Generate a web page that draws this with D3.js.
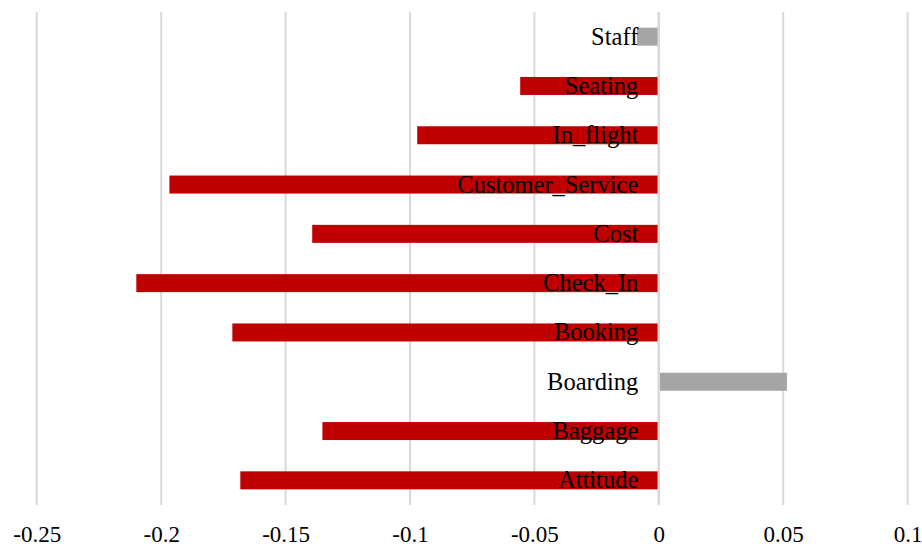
<!DOCTYPE html>
<html><head><meta charset="utf-8">
<script src="https://cdn.jsdelivr.net/npm/d3@7"></script>
<style>body{margin:0;background:#fff}svg{display:block}</style>
</head><body>
<svg id="c" width="922" height="547"></svg>
<script>
const categories = ["Staff","Seating","In_flight","Customer_Service","Cost","Check_In","Booking","Boarding","Baggage","Attitude"];
const values = [-0.0088,-0.0557,-0.0971,-0.1967,-0.1393,-0.2100,-0.1714,0.0515,-0.1352,-0.1682];
const tickValues = [-0.25,-0.2,-0.15,-0.1,-0.05,0,0.05,0.1];
const tickLabels = ["-0.25","-0.2","-0.15","-0.1","-0.05","0","0.05","0.1"];

const svg = d3.select("#c");
const x = d3.scaleLinear().domain([-0.25,0.1]).range([36.8,907.6]);
const y = d3.scaleBand().domain(categories).range([12,505]).paddingInner(0.635).paddingOuter(0.3175);
const font = "'Liberation Serif','Times New Roman',serif";

// gridlines
svg.append("g").selectAll("line").data(tickValues).join("line")
  .attr("x1",d=>x(d)).attr("x2",d=>x(d)).attr("y1",12).attr("y2",505)
  .attr("stroke","#d9d9d9").attr("stroke-width",2);

// bars
svg.append("g").selectAll("rect").data(categories).join("rect")
  .attr("x",(d,i)=>Math.min(x(0),x(values[i])))
  .attr("width",(d,i)=>Math.abs(x(values[i])-x(0)))
  .attr("y",d=>y(d)).attr("height",y.bandwidth())
  .attr("fill",(d,i)=>values[i]<0 && d!=="Staff" ? "#c00000" : "#a5a5a5");

// zero axis line
svg.append("line").attr("x1",x(0)).attr("x2",x(0)).attr("y1",12).attr("y2",505)
  .attr("stroke","#d9d9d9").attr("stroke-width",2.5);

// category labels
svg.append("g").selectAll("text").data(categories).join("text")
  .attr("x",x(0)-20.5).attr("y",d=>y(d)+y.bandwidth()/2+8)
  .attr("text-anchor","end").attr("font-family",font).attr("font-size",24.5)
  .attr("fill","#000").text(d=>d);

// x axis tick labels
const axis = d3.axisBottom(x).tickValues(tickValues).tickFormat((d,i)=>tickLabels[i]).tickSize(0);
const ag = svg.append("g").attr("transform","translate(0,523)").call(axis);
ag.select(".domain").remove();
ag.selectAll("text").attr("font-family",font).attr("font-size",23).attr("fill","#000").attr("dy","0.71em");
</script>
</body></html>
